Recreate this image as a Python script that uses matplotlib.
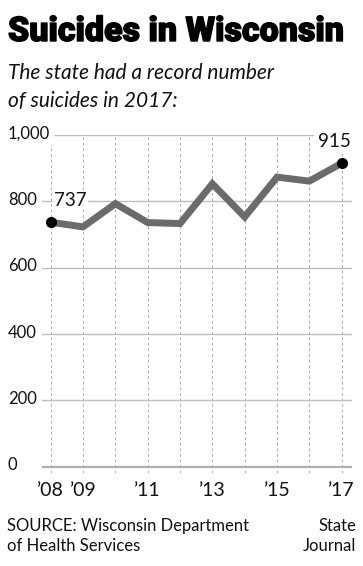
import matplotlib.pyplot as plt
import matplotlib.patheffects as pe
from matplotlib.transforms import blended_transform_factory

years = [2008, 2009, 2010, 2011, 2012, 2013, 2014, 2015, 2016, 2017]
suicides = [737, 723, 793, 736, 733, 853, 753, 873, 861, 915]
y_ticks = [0, 200, 400, 600, 800, 1000]
y_labels = ['0', '200', '400', '600', '800', '1,000']
x_ticks = [2008, 2009, 2011, 2013, 2015, 2017]
x_labels = ["\u201908", "\u201909", "\u201911", "\u201913", "\u201915", "\u201917"]

W, H = 363, 566
fig = plt.figure(figsize=(W / 100, H / 100), dpi=100)
ax = fig.add_axes([42 / W, 1 - 473 / H, 310 / W, 338 / H])
ax.set_xlim(2007.73, 2017.32)
ax.set_ylim(-19, 1000)
for s in ax.spines.values():
    s.set_visible(False)
ax.set_xticks([])
ax.set_yticks([])

tick_font = 'Lato'

# vertical dashed grid
for yr in years:
    ax.axvline(yr, color='#b0b0b0', lw=0.8, ls=(0, (2.5, 2.5)), zorder=1)
# horizontal grid
for v in y_ticks:
    ax.axhline(v, color='#bdbdbd' if v else '#b0b0b0', lw=1.0 if v else 1.6, zorder=1)

trans = blended_transform_factory(fig.transFigure, ax.transData)
for v, lab in zip(y_ticks, y_labels):
    ax.text(8 / W, v + 4, lab, transform=trans, ha='left', va='center',
            fontsize=12, family=tick_font, color='#111111', zorder=3,
            bbox=dict(facecolor='white', edgecolor='none', pad=2.5))

transx = blended_transform_factory(ax.transData, fig.transFigure)
for xv, lab in zip(x_ticks, x_labels):
    ax.text(xv, 1 - 490 / H, lab, transform=transx, ha='center', va='center',
            fontsize=14, family=tick_font, color='#111111')

ax.plot(years, suicides, color='#6b6b6d', lw=5, solid_joinstyle='miter',
        solid_capstyle='butt', zorder=4)
ax.plot([years[0], years[-1]], [suicides[0], suicides[-1]], 'o', color='black',
        markersize=7, zorder=5, clip_on=False)

ax.text(years[0] + 0.1, suicides[0] + 40, str(suicides[0]), ha='left', va='bottom',
        fontsize=13.5, family=tick_font, color='#111111', zorder=3,
        bbox=dict(facecolor='white', edgecolor='none', pad=1))
ax.text(years[-1] + 0.3, suicides[-1] + 40, str(suicides[-1]), ha='right', va='bottom',
        fontsize=13.5, family=tick_font, color='#111111', zorder=3,
        bbox=dict(facecolor='white', edgecolor='none', pad=3))

fig.text(8 / W, 1 - 32 / H, 'Suicides in Wisconsin', ha='left', va='center',
         fontsize=24.5, family='Roboto', fontweight='black', color='black',
         path_effects=[pe.withStroke(linewidth=1.0, foreground='black')])
fig.text(8 / W, 1 - 87 / H, 'The state had a record number\nof suicides in 2017:',
         ha='left', va='center', fontsize=15, family='Lato', style='italic',
         linespacing=1.5, color='#111111')

fig.text(7 / W, 1 - 536 / H, 'SOURCE: Wisconsin Department\nof Health Services',
         ha='left', va='center', fontsize=12, family=tick_font, linespacing=1.25,
         color='#111111')
fig.text(356 / W, 1 - 536 / H, 'State\nJournal', ha='right', va='center',
         fontsize=12, family=tick_font, linespacing=1.25, color='#111111',
         multialignment='right')

fig.savefig('out.png', dpi=100)
